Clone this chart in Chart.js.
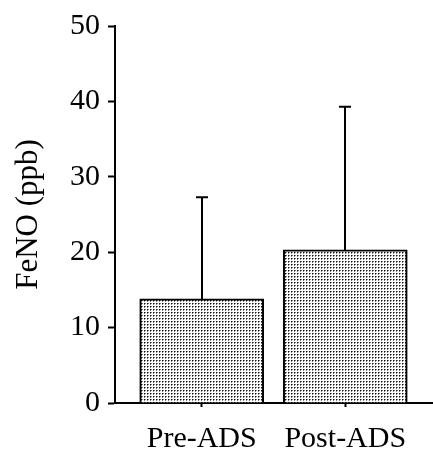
<!DOCTYPE html>
<html>
<head>
<meta charset="UTF-8">
<title>FeNO</title>
<script src="https://cdn.jsdelivr.net/npm/chart.js"></script>
<style>
  html, body { margin: 0; padding: 0; background: #fff; }
  #wrap { width: 433px; height: 456px; }
</style>
</head>
<body>
<div id="wrap"><canvas id="myChart" width="433" height="456"></canvas></div>
<script>
const categories = ['Pre-ADS', 'Post-ADS'];
const means = [13.8, 20.3];
const upperErr = [27.3, 39.3];   // top of the error bar (mean + SD)
const yTicks = [0, 10, 20, 30, 40, 50];

// stipple fill like the printed figure
function dotPattern() {
    const c = document.createElement('canvas');
    c.width = 3; c.height = 3;
    const g = c.getContext('2d');
    g.fillStyle = '#fff';
    g.fillRect(0, 0, 3, 3);
    g.fillStyle = '#111';
    g.fillRect(0, 0, 1, 1);
    g.fillStyle = '#7c7c7c';
    g.fillRect(1, 0, 1, 1);
    g.fillRect(0, 1, 1, 1);
    return g.createPattern(c, 'repeat');
}

const errorBars = {
    id: 'errorBars',
    afterDatasetsDraw(chart) {
        const ctx = chart.ctx;
        const xs = chart.scales.x, ys = chart.scales.y;
        ctx.save();
        ctx.strokeStyle = '#000';
        ctx.lineWidth = 2;
        categories.forEach((c, i) => {
            const x = Math.round(xs.getPixelForValue(i));
            const y0 = ys.getPixelForValue(means[i]);
            const y1 = ys.getPixelForValue(upperErr[i]);
            ctx.beginPath();
            ctx.moveTo(x, y0);
            ctx.lineTo(x, y1);
            ctx.moveTo(x - 6, y1);
            ctx.lineTo(x + 6, y1);
            ctx.stroke();
        });
        ctx.restore();
    }
};

const font = { family: "'Liberation Serif', 'Times New Roman', serif", size: 30 };

new Chart(document.getElementById('myChart'), {
    type: 'bar',
    data: {
        datasets: [{
            data: categories.map((c, i) => ({ x: i, y: means[i] })),
            backgroundColor: dotPattern(),
            borderColor: '#000',
            borderWidth: 2,
            barThickness: 124
        }]
    },
    options: {
        responsive: false,
        animation: false,
        layout: { padding: { top: 25, right: 0, left: 0, bottom: 0 } },
        plugins: { legend: { display: false }, tooltip: { enabled: false } },
        scales: {
            x: {
                type: 'linear',
                offset: false,
                min: -0.604,
                max: 1.611,
                afterFit: s => { s.height = 53; },
                border: { display: true, color: '#000', width: 2 },
                grid: { offset: false, drawOnChartArea: false, drawTicks: true, tickLength: 4, tickColor: '#000', tickWidth: 2 },
                ticks: {
                    stepSize: 1,
                    includeBounds: false,
                    autoSkip: false,
                    maxRotation: 0,
                    padding: 14,
                    color: '#000',
                    font: font,
                    callback: v => categories[v] ?? ''
                }
            },
            y: {
                min: 0,
                max: 50,
                afterFit: s => { s.width = 115; },
                afterBuildTicks: s => { s.ticks = yTicks.map(v => ({ value: v })); },
                border: { display: true, color: '#000', width: 2 },
                grid: { drawOnChartArea: false, drawTicks: true, tickLength: 7, tickColor: '#000', tickWidth: 2 },
                ticks: { padding: 8, color: '#000', font: font },
                title: {
                    display: true,
                    text: 'FeNO (ppb)',
                    color: '#000',
                    font: { family: font.family, size: 31 },
                    padding: { top: 10, bottom: 0 }
                }
            }
        }
    },
    plugins: [errorBars]
});
</script>
</body>
</html>
